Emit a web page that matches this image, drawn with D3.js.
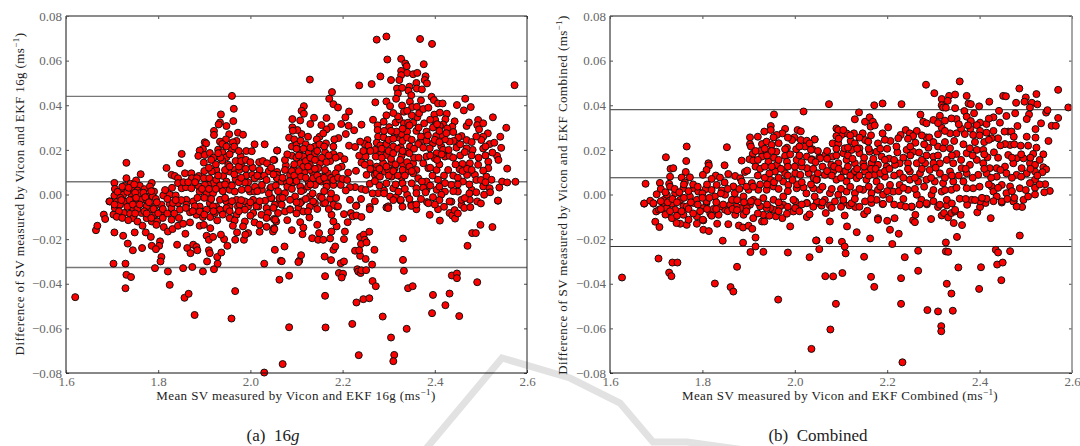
<!DOCTYPE html>
<html><head><meta charset="utf-8">
<script src="https://cdn.jsdelivr.net/npm/d3@7"></script>
<style>html,body{margin:0;background:#fff}svg{display:block}text{font-family:"Liberation Serif",serif}</style>
</head><body><svg id="c" width="1080" height="446"></svg>
<script>
const xTicks=[1.6,1.8,2.0,2.2,2.4,2.6];
const yTicks=[-0.08,-0.06,-0.04,-0.02,0,0.02,0.04,0.06,0.08];
const limits16g=[0.044,0.0057,-0.0327];
const limitsCombined=[0.038,0.0075,-0.0233];
const titles16g=["Mean SV measured by Vicon and EKF 16g (ms","Difference of SV measured by Vicon and EKF 16g (ms"];
const titlesCombined=["Mean SV measured by Vicon and EKF Combined (ms","Difference of SV measured by Vicon and EKF Combined (ms"];
const points16g=[
[1.665,-.016],[1.668,-.014],[1.682,-.009],[1.685,-.011],[1.705,-.017],[1.703,-.009],[1.724,-.0185],[1.734,-.022],[1.745,-.025],[1.749,-.017],[1.765,-.024],[1.773,-.017],[1.784,-.019],[1.786,-.023],[1.804,-.021],[1.802,-.023],[1.795,-.0245],[1.807,-.028],[1.805,-.030],[1.703,-.031],[1.729,-.031],[1.731,-.036],[1.741,-.037],[1.729,-.042],[1.62,-.046],[1.793,-.033],[1.821,-.0345],[1.825,-.0405],[1.854,-.033],[1.874,-.0325],[1.897,-.0345],[1.921,-.0335],[1.929,-.031],[1.906,-.030],[1.928,-.028],[1.937,-.026],[1.95,-.023],[1.943,-.020],[1.936,-.018],[1.91,-.025],[1.912,-.0263],[1.863,-.024],[1.876,-.0225],[1.883,-.0235],[1.885,-.025],[1.87,-.0263],[1.841,-.0225],[1.857,-.0463],[1.866,-.0445],[1.879,-.054],[1.959,-.0556],[1.967,-.0433],[2.03,-.031],[2.03,-.0798],[1.905,-.0185],[1.91,-.0203],[1.919,-.019],[1.967,-.0203],[1.986,-.0203],[1.995,-.0173],[1.989,-.018],[1.971,-.017],[2.02,-.0167],[2.053,-.0248],[2.066,-.0297],[2.063,-.0382],
[2.074,-.0233],[2.068,-.0299],[2.084,-.0364],[2.106,-.0297],[2.104,-.0303],[2.11,-.0272],[2.084,-.0595],[2.07,-.076],[2.09,-.016],[2.113,-.0178],[2.128,-.0103],[2.108,-.0124],[2.115,-.0148],[2.134,-.0196],[2.149,-.0173],[2.147,-.0203],[2.158,-.0203],[2.173,-.0197],[2.176,-.0166],[2.187,-.0143],[2.18,-.0121],[2.145,-.0136],[2.176,-.0091],[2.203,-.02],[2.205,-.0166],[2.211,-.0124],[2.203,-.0088],[2.218,-.0083],[2.222,-.0098],[2.23,-.0094],[2.241,-.0101],[2.161,-.0278],[2.175,-.0294],[2.18,-.0248],[2.184,-.0233],[2.162,-.0366],[2.162,-.0454],[2.163,-.0596],[2.221,-.058],[2.235,-.072],[2.196,-.0308],[2.203,-.03],[2.192,-.0352],[2.201,-.0355],[2.198,-.0372],[2.227,-.0252],[2.238,-.0275],[2.25,-.0289],[2.269,-.0248],[2.238,-.0191],[2.246,-.018],[2.258,-.0167],[2.248,-.0203],[2.24,-.0222],[2.252,-.0215],[2.236,-.025],[2.264,-.0314],[2.232,-.0335],[2.234,-.0345],[2.239,-.0352],[2.241,-.034],[2.251,-.0339],[2.265,-.0388],[2.272,-.0411],[2.23,-.0484],[2.245,-.0469],[2.258,-.0465],[2.287,-.0547],[2.305,-.0641],[2.312,-.0719],[2.31,-.0747],[2.339,-.0602],[2.331,-.0197],[2.331,-.0293],[2.333,-.0342],[2.342,-.042],[2.352,-.0411],[2.396,-.045],[2.394,-.0532],[2.423,-.0496],[2.432,-.0444],[2.453,-.0545],[2.437,-.0363],[2.448,-.0354],[2.448,-.0375],[2.492,-.0393],[2.471,-.023],[2.481,-.0173],[2.489,-.0173],[2.499,-.0136],[2.525,-.0146],[2.537,-.0028],[2.295,-.0058],[2.299,-.0053],[2.349,-.0044],[2.36,-.0066],[2.383,-.0034],[2.389,-.0091],[2.407,-.0066],[2.411,-.0117],[2.432,-.0083],[2.438,-.0094],[2.443,-.007],[2.444,-.0108],[2.458,-.0047],[2.464,-.006],[2.477,-.0057],[2.436,-.0032],[2.326,-.0028],[2.259,-.0056],[2.23,-.0049],
[2.274,.0694],[2.295,.0708],[2.368,.0697],[2.394,.0675],[2.297,.0605],[2.327,.0608],[2.336,.0587],[2.339,.0575],[2.376,.0584],[2.327,.0554],[2.34,.0545],[2.353,.0539],[2.362,.0545],[2.327,.0535],[2.282,.0529],[2.305,.0513],[2.323,.0513],[2.129,.0515],[2.38,.053],[2.378,.0513],[2.36,.05],[2.383,.0498],[2.236,.0489],[2.263,.0495],[2.573,.049],[2.318,.0475],[2.329,.0478],[2.345,.0483],[2.343,.0465],[2.361,.0475],[2.372,.0471],[2.32,.0453],[2.316,.0429],[2.349,.0445],[2.177,.0459],[2.171,.0429],[2.18,.0405],[2.19,.039],[2.271,.0413],[2.295,.0417],[2.303,.0396],[2.329,.0399],[2.333,.0371],[2.346,.0416],[2.351,.0392],[2.361,.0393],[2.37,.0422],[2.393,.0438],[2.398,.0423],[2.407,.0408],[2.417,.0408],[2.448,.0401],[2.466,.0429],[2.478,.0392],[2.463,.0377],[2.116,.0396],[2.111,.0375],[2.116,.0362],[2.091,.0338],[2.108,.0332],[2.138,.0344],[2.165,.0343],[2.214,.0372],[2.206,.0346],[2.197,.0316],[2.213,.0308],[2.225,.0288],[2.241,.0313],[2.207,.0271],[2.295,.0355],[2.266,.0335],[2.276,.031],[2.276,.0289],[2.289,.0326],[2.301,.0302],[2.315,.0322],[2.323,.0337],[2.333,.0319],[2.342,.0322],[2.353,.0322],[2.362,.0346],[2.366,.0364],[2.375,.0383],[2.386,.0389],[2.399,.0358],[2.411,.0367],[2.426,.0362],[2.401,.0334],[2.423,.0337],[2.443,.0328],[2.377,.0319],[2.398,.0304],[2.418,.0314],[2.382,.0282],[2.396,.03],[2.411,.0307],[2.438,.0304],[2.427,.0296],[2.469,.0307],[2.474,.0323],[2.494,.0334],[2.492,.0311],[2.505,.0319],[2.496,.0292],[2.526,.0346],[2.555,.0299],[2.515,.0274],[2.542,.0259],[2.505,.0259],[2.501,.0244],[2.519,.0226],[2.529,.0232],[2.544,.0209],[2.535,.0173],[2.538,.0155],[2.557,.0116],[2.525,.0188],[2.505,.0206],[2.482,.02],[2.458,.0262],[2.451,.0256],[2.469,.0244],[2.441,.024],[2.432,.0237],[2.447,.021],[2.469,.0207],[2.422,.0247],[2.414,.0267],[2.403,.0262],[2.396,.0229],[2.382,.0241],[2.368,.0237],[2.414,.0215],[2.418,.02],[2.404,.0185],[2.389,.0207],[2.364,.0226],[2.346,.0215],[2.321,.0256],[2.313,.0267],[2.328,.0271],[2.34,.0282],[2.317,.0282],[2.277,.0259],[2.289,.0256],[2.274,.0232],[2.254,.0244],[2.248,.0226],[2.256,.0219],[2.238,.0237],[2.214,.0219],[2.227,.0213],[2.282,.022],[2.295,.0226],[2.31,.0215],[2.326,.0212],[2.191,.0253],[2.182,.0247],[2.175,.0304],[2.165,.0292],[2.154,.0311],[2.13,.0316],[2.15,.0259],[2.158,.0274],[2.125,.0259],[2.111,.0271],[2.102,.0289],[2.091,.0301],[2.092,.0286],[2.084,.0255],[2.095,.0247],[2.144,.0247],[2.058,.0197],[2.052,.0155],[2.09,.0215],[2.1,.0222],[2.109,.0241],[2.12,.0225],[2.14,.0215],[2.164,.0229],[2.18,.0215],[2.126,.0185],[2.14,.0182],[2.162,.0188],[2.18,.0182],[2.194,.0173],[2.204,.0158],[2.198,.0125],[2.09,.0174],[2.108,.02],[2.115,.017],[2.077,.013],[2.075,.011],[2.058,.0101],[2.057,.0076],[2.108,.014],[2.129,.0133],[2.151,.014],[2.173,.015],[2.19,.0118],[2.212,.0098],[2.229,.0106],[2.236,.0174],[2.241,.0143],[2.259,.014],[2.248,.0133],[2.272,.017],[2.284,.0185],[2.295,.0177],[2.328,.0174],[2.339,.0192],[2.306,.0143],[2.288,.014],[2.274,.0125],[2.266,.011],[2.252,.0088],[2.27,.0088],[2.291,.0103],[2.313,.0118],[2.331,.0133],[2.353,.014],[2.339,.0103],[2.36,.011],[2.306,.008],[2.328,.0076],[2.382,.017],[2.4,.0162],[2.422,.017],[2.432,.0173],[2.46,.0137],[2.476,.014],[2.494,.0133],[2.516,.0147],[2.516,.0118],[2.386,.0118],[2.404,.011],[2.429,.011],[2.454,.0113],[2.47,.0088],[2.487,.0088],[2.505,.0107],[2.512,.008],[2.523,.0066],[2.546,.0058],[2.557,.0054],[2.575,.0057],[2.54,.0031],[2.48,.0021],[2.505,.0036],[2.519,.0028],[2.461,.0058],[2.436,.0043],[2.422,.0051],[2.407,.0066],[2.382,.0058],[2.364,.0073],[2.372,.0058],[2.36,.0028],[2.382,.0021],[2.404,.0021],[2.422,.0013],[2.396,-.0012],[2.386,-.0039],[2.432,-.0031],[2.414,-.0001],[2.45,.0013],[2.458,-.0024],[2.476,-.0024],[2.492,-.0031],[2.507,-.0001],[2.537,-.0027],[2.465,-.0016],[2.349,-.0051],[2.299,-.0061],[2.259,-.0066],[2.229,-.0051],[2.187,-.0054],[2.173,-.0019],[2.186,-.0016],[2.216,-.0024],[2.241,.0025],[2.227,.0033],[2.216,.0033],[2.207,.0018],[2.196,.0043],[2.18,.0043],[2.259,.0048],[2.277,.0006],[2.29,.0018],[2.31,.0028],[2.303,-.0009],[2.316,-.0012],[2.326,-.0024],[2.34,-.0001],[2.321,.0013],[2.36,.0006],[2.151,-.0009],[2.129,-.0009],[2.115,.0021],[2.097,-.0009],[2.075,.0006],[2.064,-.0031],[2.046,-.0016],[2.043,.0028],[2.086,-.0024],[2.111,-.0031],[2.14,-.0039],[2.158,-.0039],[2.129,-.0054],[2.086,-.0066],
[1.96,.0442],[1.964,.0384],[1.963,.0329],[1.936,.0359],[1.934,.0323],[1.931,.0314],[1.948,.0307],[1.921,.0285],[1.921,.0267],[1.954,.027],[1.973,.0277],[1.984,.0268],[1.97,.024],[1.962,.0234],[1.947,.0247],[1.934,.0237],[1.939,.0226],[1.901,.0234],[1.904,.0229],[1.897,.0204],[1.89,.0197],[1.93,.0201],[1.948,.0215],[1.96,.02],[1.991,.0195],[2.003,.0194],[2.009,.0225],[2.031,.0225],[2.058,.0197],[1.851,.0182],[1.887,.0173],[1.901,.0177],[1.912,.0186],[1.939,.0189],[1.948,.0167],[1.979,.017],[1.899,.0143],[1.847,.014],[1.731,.0142],[1.818,.0119],[1.939,.0152],[1.952,.0133],[1.968,.015],[1.98,.0134],[2.019,.0145],[2.027,.015],[2.036,.014],[2.05,.0155],[1.762,.0091],[1.731,.0073],[1.705,.0052],[1.752,.0063],[1.74,.0048],[1.727,.0039],[1.706,.0025],[1.721,.0018],[1.742,.0024],[1.76,.0039],[1.77,.0024],[1.786,.0052],[1.782,.0036],[1.791,.0013],[1.755,.0018],[1.724,-.0001],[1.742,-.0001],[1.76,.0006],[1.778,-.0009],[1.788,-.0009],[1.694,-.0031],[1.71,-.0031],[1.728,-.0033],[1.744,-.0024],[1.764,-.0024],[1.775,-.0024],[1.811,-.0004],[1.825,-.0001],[1.838,-.0004],[1.807,-.0046],[1.825,-.0042],[1.843,-.0039],[1.829,.0088],[1.836,.0083],[1.843,.0073],[1.843,.0051],[1.858,.0095],[1.872,.0095],[1.888,.0083],[1.873,.0073],[1.884,.0073],[1.899,.0073],[1.911,.0073],[1.92,.0051],[1.851,.0028],[1.86,.0033],[1.872,.0028],[1.888,.0036],[1.908,.0043],[1.901,.0043],[1.926,.0066],[1.941,.0083],[1.926,.011],[1.916,.0103],[1.955,.0103],[1.966,.011],[1.976,.011],[1.991,.0085],[2.004,.0088],[2.02,.011],[2.02,.008],[2.009,.0073],[1.995,.0054],[1.988,.0054],[1.968,.0069],[1.948,.0058],[1.934,.004],[1.955,.0021],[1.966,.0013],[1.981,.0021],[1.999,.0013],[2.009,.0013],[2.025,.0021],[2.025,.0043],[2.045,.0033],[2.058,.0088],[2.058,.0073],[2.045,-.0016],[2.032,-.0028],[2.063,-.0016],[1.89,.0013],[1.905,.0006],[1.919,.0006],[1.934,-.0024],[1.948,-.0031],[1.97,-.0024],[1.988,-.0031],[2.006,-.0024],[2.017,-.0054],[1.861,-.0024],[1.876,-.0031],[1.89,-.0054],[1.912,-.0039],[1.926,-.0054],[1.955,-.0054],[1.973,-.0054],[1.995,-.0054],[2.035,-.0061],
[1.695,-.0031],[1.726,-.0083],[1.739,-.0086],[1.746,-.0106],[1.755,-.0121],[1.766,-.014],[1.764,-.0083],[1.746,-.0061],[1.782,-.0068],[1.786,-.0121],[1.798,-.0121],[1.796,-.0136],[1.807,-.0076],[1.812,-.0146],[1.821,-.0166],[1.831,-.0155],[1.829,-.0113],[1.843,-.014],[1.859,-.0176],[1.854,-.0131],[1.869,-.0125],[1.89,-.014],[1.899,-.0136],[1.913,-.0151],[1.928,-.0116],[1.913,-.0101],[1.897,-.0101],[1.883,-.0091],[1.869,-.008],[1.847,-.0068],[1.829,-.0061],[1.934,-.0068],[1.955,-.0106],[1.97,-.0091],[1.966,-.0116],[1.988,-.0121],[1.962,-.014],[1.984,-.0143],[2.009,-.0125],[1.988,-.0068],[2.006,-.0083],[2.024,-.0091],[2.038,-.0083],[2.053,-.0046],[2.051,-.011],[2.056,-.0121],[2.051,-.0151],[2.049,-.0166],[1.706,-.0061],[1.717,-.0046],[1.752,-.0038],[1.775,-.0053],[1.793,-.0053],[1.832,-.0038],[1.861,-.0046],[1.879,-.0053],[1.905,-.0068],[1.919,-.0053],[1.948,-.0061],[1.977,-.0046],[2.013,-.0053],[1.923,-.0083],[1.89,-.0076],[1.793,-.0091],[1.775,-.0106],
[2.06,-.0083],[2.075,-.0076],[2.086,-.0068],[2.104,-.0061],[2.115,-.0076],[2.136,-.0031],[2.162,-.0038],[2.18,-.0046],[2.19,-.0053],[2.068,-.0046],[2.108,-.0038],[2.054,-.0113],[2.052,-.0155],
[2.068,.0058],[2.079,.0051],[2.093,.0054],[2.108,.0036],[2.126,.0058],[2.14,.0043],[2.154,.0058],[2.165,.0051],[2.086,.0088],[2.1,.0095],[2.118,.0103],[2.136,.0095],[2.154,.008],[2.168,.0095],[2.094,.0118],[2.115,.0125],[2.147,.0118],[2.162,.011],[2.136,.0073],[2.097,.0066],[2.274,.0095],[2.299,.011],[2.281,.008],[2.353,.0095]];
const points16gDense=[
[1.705,-.0005],[1.712,.0012],[1.718,-.0015],[1.722,.0035],[1.733,.0012],[1.736,.003],[1.748,.0045],[1.75,.0008],[1.752,-.0015],[1.768,.0008],[1.772,-.0012],[1.785,.0015],[1.795,-.002],[1.705,-.0045],[1.715,-.0075],[1.72,-.0025],[1.733,-.0055],[1.738,-.0025],[1.745,-.0045],[1.755,-.0065],[1.76,-.0045],[1.77,-.0075],[1.78,-.0035],[1.79,-.0065],[1.797,-.0035],[1.71,-.01],[1.722,-.0105],[1.735,-.0115],[1.75,-.0085],[1.775,-.0085],[1.785,-.0105],[1.8,-.0085],[1.81,-.0065],[1.81,-.0105],[1.82,-.0085],[1.835,-.0085],[1.845,-.0105],[1.85,-.0025],[1.838,-.0025],[1.82,-.002],[1.815,.002],[1.83,.003],[1.855,.0055],[1.865,.0055],[1.88,.0055],[1.895,.0025],[1.91,.0025],[1.925,.0025],[1.94,.0015],[1.885,-.0015],[1.9,-.0015],[1.915,-.002],[1.945,-.0015],[1.86,-.006],[1.875,-.0075],[1.9,-.009],[1.92,-.0075],[1.94,-.009],[1.955,-.0075],[1.975,-.0075],[1.98,-.0025],[2.0,-.0035],[1.96,-.003],[1.945,.0045],[1.96,.004],[1.975,.0055],[1.98,.0075],[1.995,.0025],[2.01,.0035],[1.93,.0085],[1.945,.011],[1.955,.0125],[1.965,.009],[1.975,.0125],[1.99,.0115],[2.005,.012],[1.9,.0105],[1.91,.012],[1.925,.0135],[1.92,.0165],[1.935,.0165],[1.955,.018],[1.965,.0215],[1.975,.0195],[1.93,.0185],[1.915,.0155],[1.98,.015],[1.99,.0155],[2.0,.0145],[2.015,.0085],[2.03,.0085],[2.035,.0065],[2.04,.0105],[2.045,.012],[2.05,.009],[2.015,.0015],[2.04,.0005],[2.055,.004],[2.06,.0015],[2.02,-.003],[2.05,-.006],[2.035,-.0105],[2.0,-.0095],[2.02,-.0135],[2.035,-.0145],
[2.07,.0075],[2.08,.0035],[2.085,.006],[2.09,.0105],[2.095,.0085],[2.1,.006],[2.105,.0105],[2.11,.008],[2.12,.0075],[2.125,.0035],[2.13,.0045],[2.13,.011],[2.14,.0115],[2.145,.0085],[2.15,.0065],[2.16,.0075],[2.165,.0035],[2.175,.0075],[2.18,.0065],[2.185,.0095],[2.19,.0075],[2.2,.007],[2.21,.0065],[2.075,.0155],[2.08,.018],[2.095,.0135],[2.1,.0165],[2.105,.0175],[2.12,.015],[2.125,.0125],[2.13,.0165],[2.14,.0155],[2.145,.0195],[2.155,.0165],[2.165,.0145],[2.17,.0175],[2.185,.0165],[2.1,.0205],[2.115,.0205],[2.13,.021],[2.15,.0225],[2.16,.0215],[2.09,.0025],[2.11,.0015],[2.135,.0005],[2.16,.0015],[2.175,.0005],[2.07,-.0015],[2.1,-.0035],[2.12,-.002],[2.155,-.0015],[2.17,-.0065],[2.145,-.0065],[2.1,-.0085],[2.125,-.0075],[2.08,-.0115],
[2.26,.0115],[2.28,.0115],[2.285,.0165],[2.295,.0125],[2.3,.0085],[2.305,.016],[2.31,.0105],[2.315,.0135],[2.32,.0085],[2.325,.0155],[2.33,.011],[2.335,.0085],[2.34,.0145],[2.345,.0125],[2.35,.0105],[2.355,.0165],[2.3,.0195],[2.31,.0185],[2.32,.0205],[2.33,.0195],[2.345,.0185],[2.355,.0205],[2.3,.0245],[2.31,.025],[2.33,.024],[2.34,.0255],[2.35,.0245],[2.305,.0285],[2.33,.0295],[2.345,.031],[2.36,.0285],[2.37,.026],[2.375,.021],[2.365,.0165],[2.375,.014],[2.39,.012],[2.395,.0085],[2.41,.0135],[2.42,.0085],[2.44,.0085],[2.45,.0075],[2.46,.0105],[2.47,.0115],[2.48,.011],[2.49,.0065],[2.5,.0065],[2.51,.0055],[2.475,.0045],[2.45,.0045],[2.41,.0035],[2.39,.004],[2.375,.003],[2.35,.005],[2.33,.005],[2.315,.0045],[2.295,.005],[2.28,.004],[2.27,.006],[2.39,.0175],[2.405,.0155],[2.415,.018],[2.43,.02],[2.44,.0165],[2.455,.0175],[2.465,.019],[2.48,.0175],[2.495,.0165],[2.51,.0175],[2.445,.0135],[2.4,.0245],[2.41,.0235],[2.425,.0275],[2.44,.028],[2.455,.0225],[2.48,.0235],[2.49,.026],[2.51,.0215],[2.39,.0335],[2.41,.0285],[2.405,.0315],[2.385,.0265],[2.365,.03],[2.35,.0355],[2.34,.0375],[2.32,.035],[2.285,.0205],[2.27,.02],[2.26,.0195],[2.25,.017],[2.245,.0195],[2.29,.0285],[2.31,.0365],
[2.29,.0005],[2.31,-.0025],[2.335,.0025],[2.345,-.002],[2.37,-.002],[2.38,.001],[2.41,-.0025],[2.44,.0015],[2.475,.0005],[2.49,.001],[2.52,.001],[2.25,.002],[2.265,.0005],[2.27,-.003],[2.24,-.002],[2.33,-.0055],[2.36,-.0045],[2.4,-.0045],[2.42,-.0055],[2.45,-.0085],[2.5,-.004]];
const pointsCombined=[
[1.626,-.0372],[1.705,-.0287],[1.735,-.0305],[1.746,-.0305],[1.728,-.035],[1.733,-.0366],[1.827,-.0399],[1.875,-.0324],[1.861,-.0415],[1.867,-.0435],[1.964,-.0471],[2.036,-.0692],[1.904,-.0258],[1.915,-.0233],[1.932,-.0257],[1.985,-.026],[1.888,-.0216],[1.915,-.0193],[1.844,-.0207],[2.032,-.0281],[2.047,-.0206],[2.053,-.0245],[1.698,-.0122],[1.707,-.0146],[1.802,-.0158],[1.814,-.0164],[1.99,-.0143],[1.832,-.0131],[1.856,-.0133],[1.879,-.0139],[1.888,-.0148],[1.9,-.014],[1.908,-.0154],[1.929,-.0121],[1.934,-.0121],[1.973,-.0106],[2.026,-.0101],[2.032,-.0089],[1.997,-.0076],[1.983,-.0086],[1.959,-.0098],[1.954,-.0068],[1.932,-.0091],[1.91,-.0106],[1.889,-.0091],[1.871,-.0091],[1.849,-.0068],[1.835,-.0091],[1.802,-.0116],[1.788,-.0131],[1.766,-.0136],[1.752,-.0131],[1.744,-.0128],[1.734,-.0106],[1.7,-.0076],[1.706,-.0068],[1.674,-.0041],[1.694,-.0041],[1.715,-.0038],[1.723,-.0061],[1.741,-.0068],[1.759,-.0091],[1.77,-.0113],[1.788,-.0098],[1.801,-.0113],[1.817,-.0086],[1.824,-.0065],[1.838,-.0053],[1.86,-.0046],[1.882,-.0061],[1.903,-.0046],[1.925,-.0053],[1.947,-.0061],[1.975,-.0046],[2.001,-.0031],[2.026,-.0038],[1.759,-.0053],[1.781,-.0038],[1.734,-.0041],[1.809,-.0038],
[2.233,-.0752],[2.077,-.0605],[2.089,-.049],[2.066,-.0366],[2.083,-.0367],[2.103,-.0352],[2.165,-.0369],[2.172,-.0414],[2.23,-.0375],[2.23,-.049],[2.287,-.0518],[2.31,-.0524],[2.342,-.0521],[2.317,-.059],[2.317,-.0613],[2.329,-.04],[2.339,-.0444],[2.399,-.0423],[2.447,-.0384],[2.267,-.0342],[2.354,-.0327],[2.403,-.0326],[2.438,-.0314],[2.45,-.0305],[2.238,-.0281],[2.15,-.0279],[2.046,-.0206],[2.075,-.0206],[2.102,-.0212],[2.108,-.0233],[2.11,-.0264],[2.163,-.0197],[2.211,-.0222],[2.267,-.0252],[2.327,-.0215],[2.327,-.0255],[2.332,-.0257],[2.435,-.0248],[2.44,-.026],[2.466,-.0254],[2.487,-.0184],[2.351,-.019],[2.225,-.0176],[2.206,-.0158],[2.134,-.0169],[2.113,-.0143],[2.076,-.0121],[2.067,-.0083],[2.108,-.0094],[2.15,-.0088],[2.157,-.0073],[2.18,-.0106],[2.18,-.0113],[2.2,-.0118],[2.216,-.0106],[2.256,-.0116],[2.26,-.0124],[2.261,-.0091],[2.295,-.011],[2.318,-.0094],[2.323,-.0083],[2.332,-.0103],[2.339,-.0083],[2.347,-.0076],[2.359,-.0091],[2.344,-.0128],[2.362,-.0137],[2.395,-.008],[2.424,-.0106],[2.401,-.0056],[2.413,-.0038],[2.492,-.0056],[2.474,-.0031],[2.448,-.0036],[2.373,-.0046],[2.329,-.0049],[2.31,-.0056],[2.286,-.0044],[2.253,-.0056],[2.229,-.0049],[2.19,-.0043],[2.131,-.0056],[2.118,-.0049],[2.105,-.0038],[2.076,-.0049],[2.058,-.005],[2.047,-.0038],[2.166,-.0038],
[2.019,.0372],[1.955,.0359],[1.948,.0307],[1.948,.0289],[1.979,.0294],[1.973,.0274],[2.006,.0289],[2.013,.0283],[1.961,.0267],[1.954,.0256],[1.934,.0282],[1.92,.0259],[1.903,.0256],[1.903,.0226],[1.905,.0215],[1.929,.0226],[1.939,.0237],[1.95,.0222],[1.999,.0256],[1.994,.0244],[2.013,.0244],[2.026,.0241],[2.043,.0247],[2.022,.0215],[2.003,.0203],[1.983,.021],[1.979,.0203],[1.96,.0192],[1.939,.0192],[1.925,.0195],[1.909,.0182],[1.885,.0152],[1.902,.0158],[1.91,.0152],[1.929,.017],[1.943,.0147],[1.961,.0133],[1.979,.0173],[1.983,.0147],[2.004,.0155],[2.026,.017],[2.037,.0158],[2.053,.0167],[1.766,.0215],[1.853,.0212],[1.721,.0167],[1.765,.015],[1.731,.0115],[1.737,.0118],[1.764,.0101],[1.813,.014],[1.814,.013],[1.848,.0131],[1.809,.011],[1.801,.0088],[1.829,.0085],[1.838,.0076],[1.856,.0092],[1.871,.0083],[1.882,.0073],[1.892,.0101],[1.897,.0107],[1.73,.008],[1.773,.0077],[1.677,.0048],[1.708,.0052],[1.728,.0048],[1.755,.0076],[1.762,.0054],[1.759,.0028],[1.781,.0028],[1.791,.0013],[1.807,.0024],[1.82,.007],[1.831,.0043],[1.848,.0054],[1.842,.0018],[1.867,.0036],[1.885,.0058],[1.907,.0051],[1.9,.0021],[1.921,.0021],[1.939,.0021],[1.954,.0036],[1.975,.0058],[1.986,.0043],[2.001,.0095],[1.979,.0095],[1.957,.0103],[1.947,.0066],[2.019,.0031],[2.03,.0095],[2.048,.0066],[2.012,.0088],[2.026,.0118],[2.004,.0028],[2.04,.0028],[1.701,.0001],[1.674,-.004],[1.687,-.0028],[1.694,-.0039],[1.717,-.0024],[1.741,.0006],[1.723,-.0001],[1.752,-.0024],[1.773,-.0009],[1.788,-.0024],[1.809,-.0031],[1.827,-.0009],[1.849,-.0001],[1.864,-.0024],[1.889,-.0009],[1.91,-.0024],[1.932,-.0016],[1.954,-.0024],[1.975,-.0009],[1.997,-.0024],[2.026,-.0039],[2.048,-.0031],[1.766,-.0054],[1.802,-.0061],[1.838,-.0054],[1.874,-.0054],[1.896,-.0061],[1.939,-.0061],[1.968,-.0054],[2.001,-.0061],
[2.357,.0507],[2.284,.0492],[2.302,.0454],[2.486,.0475],[2.57,.0469],[2.318,.0428],[2.334,.0442],[2.347,.0448],[2.372,.0442],[2.331,.042],[2.376,.0408],[2.381,.0405],[2.421,.0416],[2.451,.0442],[2.457,.044],[2.5,.0435],[2.523,.045],[2.497,.0416],[2.513,.0411],[2.525,.0404],[2.479,.0411],[2.074,.0405],[2.172,.04],[2.19,.0408],[2.231,.0405],[2.318,.04],[2.321,.039],[2.327,.0389],[2.347,.0387],[2.399,.0395],[2.367,.0374],[2.388,.0364],[2.442,.0375],[2.372,.0349],[2.43,.0346],[2.477,.0364],[2.509,.039],[2.507,.0359],[2.502,.0338],[2.544,.0367],[2.547,.0378],[2.592,.039],[2.57,.0343],[2.556,.0308],[2.565,.0308],[2.533,.0319],[2.521,.0293],[2.482,.0307],[2.458,.0352],[2.444,.0322],[2.462,.0282],[2.454,.0282],[2.469,.0282],[2.44,.0252],[2.474,.0259],[2.502,.0259],[2.521,.0255],[2.549,.024],[2.523,.021],[2.505,.0219],[2.538,.018],[2.516,.0182],[2.489,.0219],[2.466,.0222],[2.455,.0226],[2.426,.0252],[2.415,.0277],[2.401,.0322],[2.415,.0316],[2.394,.0311],[2.381,.0329],[2.35,.0338],[2.339,.0341],[2.325,.0331],[2.314,.0353],[2.272,.0358],[2.278,.0326],[2.285,.0319],[2.3,.0334],[2.318,.0299],[2.336,.0274],[2.35,.0274],[2.368,.0271],[2.386,.0267],[2.401,.0285],[2.264,.0285],[2.24,.0289],[2.249,.0274],[2.256,.0262],[2.202,.0301],[2.19,.0274],[2.207,.024],[2.229,.0267],[2.224,.0252],[2.261,.0232],[2.285,.0256],[2.291,.0256],[2.139,.0368],[2.13,.0337],[2.152,.0326],[2.162,.0346],[2.169,.0326],[2.164,.0304],[2.173,.031],[2.147,.0274],[2.128,.0274],[2.112,.0274],[2.101,.0267],[2.09,.0296],[2.094,.0289],[2.09,.0262],[2.105,.0289],[2.082,.0229],[2.094,.0229],[2.043,.0247],[2.032,.0229],[2.038,.0203],[2.066,.0177],[2.055,.0162],[2.036,.0155],[2.082,.017],[2.105,.0185],[2.121,.024],[2.108,.0207],[2.13,.0229],[2.14,.0207],[2.152,.0244],[2.159,.0237],[2.18,.0229],[2.177,.0192],[2.162,.0192],[2.14,.0185],[2.123,.02],[2.188,.017],[2.204,.0161],[2.222,.0189],[2.242,.02],[2.256,.0192],[2.269,.0188],[2.289,.021],[2.3,.017],[2.31,.0215],[2.321,.0207],[2.336,.0207],[2.35,.0182],[2.372,.0185],[2.379,.0207],[2.394,.02],[2.408,.02],[2.431,.0189],[2.417,.0167],[2.462,.0177],[2.48,.0162],[2.495,.0162],[2.509,.014],[2.52,.0133],[2.538,.0122],[2.544,.0113],[2.536,.01],[2.473,.014],[2.455,.0125],[2.437,.0118],[2.422,.0118],[2.408,.014],[2.394,.0155],[2.379,.0133],[2.361,.0118],[2.343,.014],[2.329,.0155],[2.314,.014],[2.3,.014],[2.282,.014],[2.264,.014],[2.245,.014],[2.227,.014],[2.217,.0133],[2.199,.0125],[2.18,.0133],[2.166,.014],[2.148,.014],[2.13,.014],[2.112,.0155],[2.094,.014],[2.079,.0133],[2.227,.0095],[2.249,.0103],[2.271,.0095],[2.292,.011],[2.314,.0095],[2.336,.0103],[2.372,.0095],[2.397,.0088],[2.415,.0095],[2.437,.008],[2.458,.0095],[2.48,.0088],[2.502,.0095],[2.52,.0103],[2.491,.0118],[2.065,.0088],[2.083,.0103],[2.105,.0103],[2.126,.0095],[2.152,.0103],[2.173,.0088],[2.195,.008],[2.041,.0073],[2.047,.0066],[2.09,.0066],[2.112,.0058],[2.134,.0073],[2.155,.0066],[2.177,.0058],[2.206,.0043],[2.227,.0043],[2.249,.0066],[2.267,.0058],[2.285,.0066],[2.303,.0058],[2.321,.0051],[2.343,.0058],[2.365,.0058],[2.386,.0028],[2.372,.0028],[2.357,-.0019],[2.383,-.0024],[2.401,-.0031],[2.415,-.0019],[2.426,.0036],[2.43,.0013],[2.448,-.0031],[2.437,-.0009],[2.473,-.0031],[2.48,-.0054],[2.495,-.0024],[2.505,-.0009],[2.552,.0016],[2.542,.0046],[2.52,.0066],[2.509,.0051],[2.487,.0028],[2.466,.0036],[2.448,.0043],[2.458,.0006],[2.339,.0021],[2.318,.0013],[2.296,-.0001],[2.274,-.0024],[2.253,-.0054],[2.264,-.0001],[2.245,.0021],[2.213,.0013],[2.191,-.0001],[2.18,.0021],[2.166,.0006],[2.148,.0021],[2.13,.0006],[2.112,.0013],[2.094,-.0001],[2.076,.0006],[2.054,.0021],[2.043,-.0009],[2.065,-.0024],[2.087,-.0031],[2.105,-.0024],[2.123,-.0039],[2.152,-.0031],[2.177,-.0024],[2.191,-.0042],[2.347,-.0069],[2.314,-.0046],[2.285,-.0039],[2.329,-.0024]];
const pointsCombinedDense=[
[1.71,.0025],[1.72,.001],[1.73,.0035],[1.74,.0025],[1.75,.001],[1.76,.0045],[1.77,.0015],[1.78,.0045],[1.79,.0035],[1.8,.0005],[1.81,.0045],[1.82,.002],[1.71,-.003],[1.725,-.0035],[1.735,-.002],[1.745,-.0035],[1.76,-.0015],[1.775,-.0035],[1.79,-.0045],[1.8,-.0015],[1.815,-.0015],[1.83,-.0035],[1.71,-.0065],[1.72,-.009],[1.73,-.0075],[1.745,-.0095],[1.755,-.0075],[1.77,-.0065],[1.78,-.0085],[1.795,-.0075],[1.81,-.0065],[1.82,-.0095],[1.83,-.0065],[1.845,-.0045],[1.855,-.0075],[1.865,-.0065],[1.875,-.007],[1.84,.0005],[1.855,.0025],[1.87,.0005],[1.88,.0025],[1.895,.0035],[1.875,-.0025],[1.89,-.0035],[1.905,-.003],[1.92,-.0035],[1.895,-.0075],[1.92,-.0085],[1.94,-.0045],[1.965,-.0035],[1.945,-.0095],[1.965,-.0075],[1.985,-.0055],[2.01,-.0075],[2.015,-.0045],[2.04,-.0055],[1.91,.0035],[1.925,.0045],[1.94,.0045],[1.955,.0055],[1.965,.0025],[1.985,.0015],[2.005,.0045],[2.025,.0005],[2.035,.0045],[1.92,.0085],[1.935,.0075],[1.945,.0095],[1.965,.0075],[1.985,.0085],[1.995,.0065],[2.015,.0055],[1.915,.0125],[1.925,.0115],[1.935,.0125],[1.95,.0125],[1.97,.0115],[1.985,.0125],[2.0,.0125],[2.015,.0125],[2.04,.0115],[2.05,.0095],[1.92,.0155],[1.94,.0175],[1.955,.0165],[1.965,.0155],[1.99,.018],[2.01,.0175],[2.015,.0145],[2.045,.0145],[1.935,.0205],[1.95,.0195],[1.915,.0195],[1.965,.023],[1.985,.0255],[2.01,.0215],[2.035,.02],[2.05,.0195],
[2.06,.0125],[2.07,.0105],[2.08,.0085],[2.085,.0125],[2.095,.0115],[2.1,.0075],[2.11,.0105],[2.115,.0125],[2.12,.0085],[2.13,.0105],[2.135,.0115],[2.14,.0085],[2.15,.0125],[2.16,.0085],[2.165,.0115],[2.175,.0115],[2.185,.0095],[2.195,.0105],[2.205,.0115],[2.215,.0085],[2.235,.0075],[2.245,.0115],[2.26,.0075],[2.275,.0115],[2.295,.0075],[2.305,.012],[2.325,.0075],[2.34,.0085],[2.355,.0085],[2.37,.0115],[2.385,.0075],[2.41,.0115],[2.425,.0075],[2.445,.011],[2.47,.0075],[2.49,.008],[2.51,.0115],[2.525,.0085],[2.07,.016],[2.09,.0175],[2.115,.0175],[2.125,.016],[2.15,.0165],[2.17,.016],[2.195,.0155],[2.215,.0155],[2.235,.0165],[2.25,.0175],[2.275,.0155],[2.285,.0175],[2.31,.0175],[2.34,.0175],[2.36,.0155],[2.385,.0175],[2.41,.018],[2.44,.0165],[2.47,.0165],[2.49,.018],[2.51,.0165],[2.53,.0155],[2.07,.0195],[2.09,.0205],[2.115,.021],[2.135,.0205],[2.16,.0205],[2.185,.0205],[2.2,.0205],[2.22,.0215],[2.25,.0215],[2.28,.0225],[2.3,.0235],[2.325,.0235],[2.345,.024],[2.365,.0225],[2.39,.0235],[2.41,.0235],[2.445,.022],[2.475,.0225],[2.095,.025],[2.12,.0265],[2.14,.0255],[2.165,.0265],[2.195,.0245],[2.245,.025],[2.275,.0265],[2.31,.027],[2.325,.0285],[2.36,.0295],[2.38,.0295],[2.4,.0265],[2.43,.0285],[2.355,.0315],[2.375,.031],[2.42,.034],[2.31,.032],[2.42,.0245],
[2.06,.0035],[2.08,.0025],[2.1,.0025],[2.12,.0035],[2.14,.0025],[2.16,.0035],[2.185,.0035],[2.2,.0015],[2.225,.0015],[2.235,.003],[2.26,.0025],[2.28,.0035],[2.3,.002],[2.325,.002],[2.35,.003],[2.4,.0035],[2.42,.0045],[2.44,.003],[2.47,.0015],[2.5,.002],[2.52,.003],[2.53,.0045],[2.06,-.0035],[2.08,-.006],[2.1,-.0055],[2.13,-.002],[2.165,-.002],[2.14,-.0055],[2.205,-.002],[2.215,-.0045],[2.235,-.002],[2.24,-.0055],[2.27,-.0045],[2.3,-.003],[2.34,-.004],[2.37,-.002],[2.39,-.0025],[2.405,-.0015],[2.43,-.003],[2.46,-.002],[2.475,-.0015],[2.52,.0],[2.54,.001]];
const watermark=[[425,450],[502,358],[570,378],[620,403],[653,442],[687,442],[745,450]];

const svg=d3.select("#c");
const wmLine=d3.line().x(d=>d[0]).y(d=>d[1]);
svg.append("path").attr("d",wmLine(watermark)).attr("fill","none").attr("stroke","#e2e2e2").attr("stroke-width",7);

const fmtY=d=>d3.format(".2f")(d).replace("-","\u2212");
function panel(left,right,points,limits,titles,yTitleX,xTitleX,caption){
  const x=d3.scaleLinear().domain([1.6,2.6]).range([left,right]);
  const y=d3.scaleLinear().domain([-0.08,0.08]).range([373,16]);
  const g=svg.append("g");
  g.selectAll("line.lim").data(limits).join("line").attr("class","lim")
    .attr("x1",left).attr("x2",right).attr("y1",d=>y(d)).attr("y2",d=>y(d))
    .attr("stroke",left<100?"#777":"#333").attr("stroke-width",left<100?1.4:1);
  g.selectAll("circle").data(points).join("circle")
    .attr("cx",d=>x(d[0])).attr("cy",d=>y(d[1])).attr("r",3.5)
    .attr("fill","#ff0000").attr("stroke","#111").attr("stroke-width",1);
  const ax=[
    [d3.axisBottom(x).tickValues(xTicks).tickFormat(d3.format(".1f")).tickSize(-3).tickPadding(4),373,0],
    [d3.axisTop(x).tickValues(xTicks).tickFormat("").tickSize(-3),16,0],
    [d3.axisLeft(y).tickValues(yTicks).tickFormat(fmtY).tickSize(-3).tickPadding(4),0,left],
    [d3.axisRight(y).tickValues(yTicks).tickFormat("").tickSize(-3),0,right]
  ];
  ax.forEach(([a,ty,tx])=>{
    const n=g.append("g").attr("transform",`translate(${tx},${ty})`).call(a);
    n.select(".domain").remove();
    n.selectAll("line").attr("stroke","#222").attr("stroke-width",0.8);
    n.selectAll("text").attr("font-size",13).attr("fill","#666").attr("font-family","Liberation Serif");
  });
  const sp=(x1,y1,x2,y2,c,w)=>g.append("line").attr("x1",x1).attr("y1",y1).attr("x2",x2).attr("y2",y2).attr("stroke",c).attr("stroke-width",w);
  sp(left,16,right,16,"#666",1.5);sp(left,16,left,373,"#555",1.4);sp(left,373,right,373,"#111",1);sp(right,16,right,373,left<100?"#222":"#888",left<100?1:1.5);
  const title=(sel,t)=>{sel.append("tspan").text(t);sel.append("tspan").text("\u22121").attr("font-size",9).attr("dy",-5);sel.append("tspan").text(")").attr("dy",5);};
  const xt=svg.append("text").attr("x",xTitleX).attr("y",400).attr("text-anchor","middle").attr("font-size",13).attr("letter-spacing",0.4).attr("fill","#222");
  title(xt,titles[0]);
  const yt=svg.append("text").attr("transform",`translate(${yTitleX},${left<100?194:195}) rotate(-90)`).attr("text-anchor","middle").attr("font-size",13).attr("letter-spacing",0.4).attr("fill","#222");
  title(yt,titles[1]);
  const c=svg.append("text").attr("x",caption[1]).attr("y",441).attr("text-anchor","middle").attr("font-size",17).attr("fill","#222");
  c.append("tspan").text(caption[0]);
  if(caption[2])c.append("tspan").text(caption[2]).attr("font-style","italic");
}
panel(66,527,points16g.concat(points16gDense),limits16g,titles16g,24,296,["(a)\u00a0\u00a016",273,"g"]);
panel(610,1072,pointsCombined.concat(pointsCombinedDense),limitsCombined,titlesCombined,567,840,["(b)\u00a0\u00a0Combined",818,""]);
</script></body></html>
